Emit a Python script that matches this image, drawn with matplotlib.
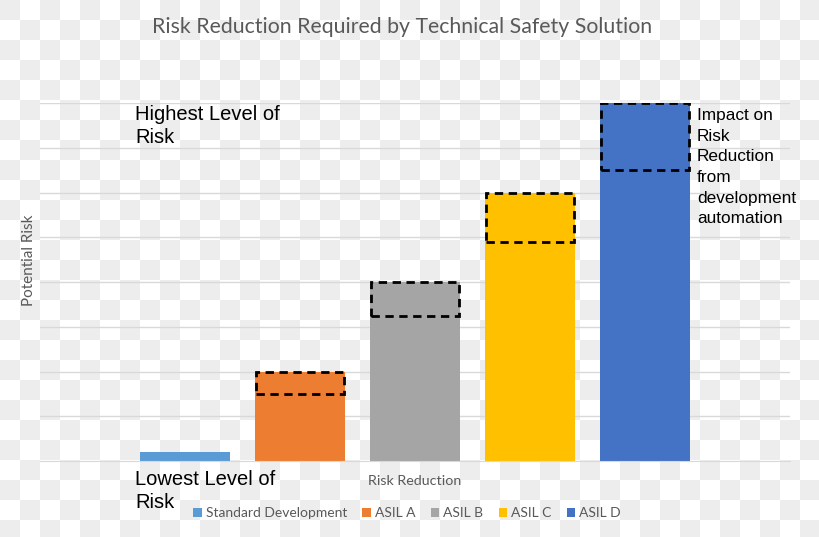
import matplotlib
matplotlib.use('Agg')
import matplotlib.pyplot as plt
import numpy as np

# data
categories = ['Standard Development', 'ASIL A', 'ASIL B', 'ASIL C', 'ASIL D']
risk_required = [0.2, 2.0, 4.0, 6.0, 8.0]
risk_with_automation = [0.2, 1.5, 3.25, 4.9, 6.5]
colors = ['#5B9BD5', '#ED7D31', '#A5A5A5', '#FFC000', '#4472C4']

W, H = 820, 537
fig = plt.figure(figsize=(W / 100, H / 100), dpi=100)

# checkered background (as in the reference)
bg = fig.add_axes([0, 0, 1, 1], zorder=-10)
ny, nx = int(np.ceil(H / 20)), int(np.ceil(W / 20))
checker = (np.add.outer(np.arange(ny), np.arange(nx)) % 2 == 0).astype(float)
bg.imshow(checker, cmap=matplotlib.colors.ListedColormap(['#ffffff', '#ededed']),
          extent=[0, nx * 20, ny * 20, 0], interpolation='nearest', aspect='auto')
bg.set_xlim(0, W)
bg.set_ylim(H, 0)
bg.axis('off')

def fx(px):
    return px / W

def fy(py):
    return (H - py) / H

ax = fig.add_axes([fx(40), fy(461), fx(790) - fx(40), fy(103) - fy(461)])
ax.patch.set_alpha(0)

x = np.arange(len(categories))
bars = ax.bar(x, risk_required, width=0.78, color=colors, zorder=2)

# dashed boxes: reduction from development automation
for i in range(1, len(categories)):
    ax.bar(x[i], risk_required[i] - risk_with_automation[i], bottom=risk_with_automation[i],
           width=0.76, fill=False, edgecolor='black', linestyle=(0, (3, 2)), linewidth=2, zorder=3)

ax.set_xlim((40 - 185) / 115, (790 - 185) / 115)
ax.set_ylim(0, 8)
ax.set_yticks(np.arange(1, 9))
ax.set_xticks([])
ax.yaxis.grid(True, color='#d9d9d9', linewidth=1)
ax.set_axisbelow(True)
ax.tick_params(left=False, labelleft=False)
for s in ['top', 'right', 'left']:
    ax.spines[s].set_visible(False)
ax.spines['bottom'].set_color('#d9d9d9')

fig.text(fx(402), fy(27), 'Risk Reduction Required by Technical Safety Solution',
         ha='center', va='center', fontsize=15.3, color='#595959', family='Lato')
fig.text(fx(29), fy(260), 'Potential Risk', rotation=90, ha='center', va='center',
         fontsize=11, color='#595959', family='Lato')
fig.text(fx(415), fy(481), 'Risk Reduction', ha='center', va='center',
         fontsize=10.3, color='#595959', family='Lato')

big = dict(ha='left', va='baseline', fontsize=14.5, family='Liberation Sans')
fig.text(fx(135), fy(120), 'Highest Level of', **big)
fig.text(fx(135), fy(143), 'Risk', **big)
fig.text(fx(135), fy(485), 'Lowest Level of', **big)
fig.text(fx(135), fy(508), 'Risk', **big)
fig.text(fx(697), fy(108), 'Impact on\nRisk\nReduction\nfrom\ndevelopment\nautomation',
         ha='left', va='top', fontsize=12.4, family='Liberation Sans', linespacing=1.47)

leg = fig.legend(bars, categories, loc='center', bbox_to_anchor=(fx(407), fy(513)),
                 ncol=5, frameon=False, handlelength=0.6, handleheight=0.6,
                 handletextpad=0.3, columnspacing=1.1, prop={'family': 'Lato', 'size': 10})
for t in leg.get_texts():
    t.set_color('#595959')

plt.savefig('out.png', dpi=100)
